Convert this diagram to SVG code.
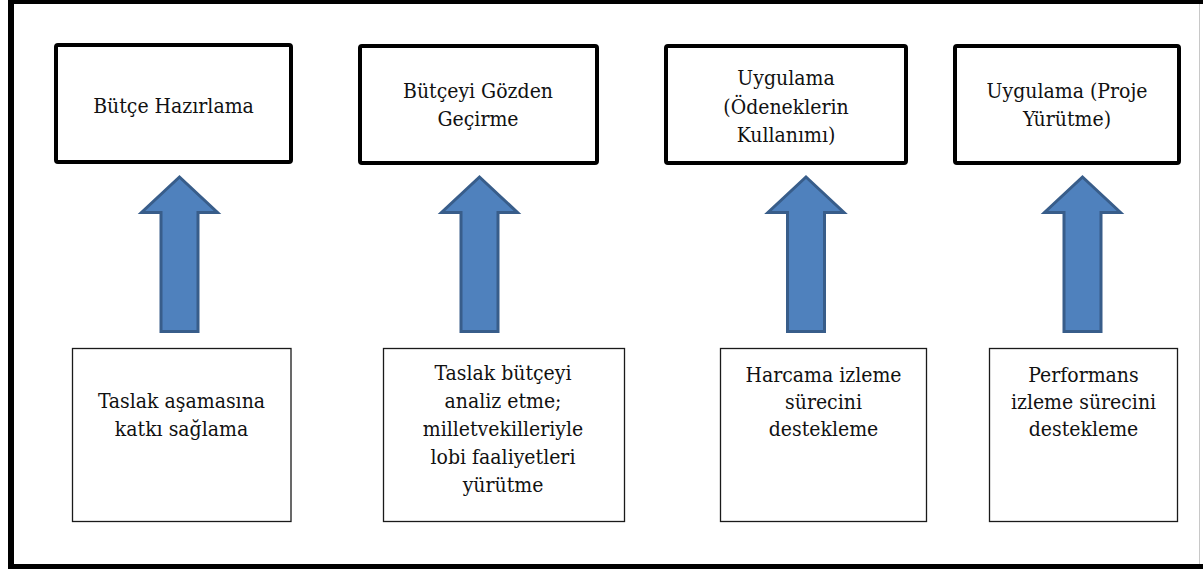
<svg xmlns="http://www.w3.org/2000/svg" xmlns:xlink="http://www.w3.org/1999/xlink" width="1203" height="569" viewBox="0 0 1203 569">
  <style>
    .stage { fill: #ffffff; stroke: #000000; stroke-width: 4; }
    .role { fill: #ffffff; stroke: #1a1a1a; stroke-width: 1.3; }
    .label { font-family: 'DejaVu Serif Condensed', 'DejaVu Serif', serif; font-stretch: condensed; font-size: 21px; fill: #111111; text-anchor: middle; }
    .arrow { fill: #4F81BD; stroke: #385D8A; stroke-width: 3; stroke-linejoin: miter; }
  </style>
  <defs>
    <!-- block arrow pointing up, origin at the shaft centre line -->
    <path id="upArrow" d="M0,177 L38,212.5 L18.5,212.5 L18.5,331.5 L-18.5,331.5 L-18.5,212.5 L-38,212.5 Z"/>
  </defs>

  <rect x="0" y="0" width="1203" height="569" fill="#ffffff"/>

  <!-- outer frame -->
  <g id="frame">
    <rect x="11" y="1" width="1200" height="566" fill="none" stroke="#000000" stroke-width="6"/>
    <line x1="1199.5" y1="4" x2="1199.5" y2="564" stroke="#c8c8c8" stroke-width="1"/>
  </g>

  <!-- budget stages -->
  <g id="stage-hazirlama">
    <rect class="stage" x="56" y="45" width="235" height="117" rx="2"/>
    <text class="label" x="173.5" y="113">Bütçe Hazırlama</text>
  </g>
  <g id="stage-gozden-gecirme">
    <rect class="stage" x="360" y="46" width="237" height="117" rx="2"/>
    <text class="label" x="478" y="98">Bütçeyi Gözden</text>
    <text class="label" x="478" y="126">Geçirme</text>
  </g>
  <g id="stage-odenekler">
    <rect class="stage" x="666" y="46" width="240" height="117" rx="2"/>
    <text class="label" x="786" y="85">Uygulama</text>
    <text class="label" x="786" y="113.5">(Ödeneklerin</text>
    <text class="label" x="786" y="142">Kullanımı)</text>
  </g>
  <g id="stage-proje">
    <rect class="stage" x="955" y="46" width="224" height="117" rx="2"/>
    <text class="label" x="1067" y="98">Uygulama (Proje</text>
    <text class="label" x="1067" y="126">Yürütme)</text>
  </g>

  <!-- contributions -->
  <g id="role-taslak">
    <rect class="role" x="72.5" y="348.5" width="218.5" height="173"/>
    <text class="label" x="181.5" y="408">Taslak aşamasına</text>
    <text class="label" x="181.5" y="436">katkı sağlama</text>
  </g>
  <g id="role-analiz">
    <rect class="role" x="383.5" y="348.5" width="241" height="173"/>
    <text class="label" x="503" y="380">Taslak bütçeyi</text>
    <text class="label" x="503" y="408">analiz etme;</text>
    <text class="label" x="503" y="436">milletvekilleriyle</text>
    <text class="label" x="503" y="464">lobi faaliyetleri</text>
    <text class="label" x="503" y="492">yürütme</text>
  </g>
  <g id="role-harcama">
    <rect class="role" x="720.5" y="348.5" width="206" height="173"/>
    <text class="label" x="823.5" y="382">Harcama izleme</text>
    <text class="label" x="823.5" y="409">sürecini</text>
    <text class="label" x="823.5" y="436">destekleme</text>
  </g>
  <g id="role-performans">
    <rect class="role" x="989.5" y="348.5" width="188" height="173"/>
    <text class="label" x="1083.5" y="382">Performans</text>
    <text class="label" x="1083.5" y="409">izleme sürecini</text>
    <text class="label" x="1083.5" y="436">destekleme</text>
  </g>

  <!-- connectors -->
  <g id="connectors">
    <use xlink:href="#upArrow" class="arrow" transform="translate(179.5,0)"/>
    <use xlink:href="#upArrow" class="arrow" transform="translate(479.5,0)"/>
    <use xlink:href="#upArrow" class="arrow" transform="translate(806,0)"/>
    <use xlink:href="#upArrow" class="arrow" transform="translate(1082.5,0)"/>
  </g>
</svg>
